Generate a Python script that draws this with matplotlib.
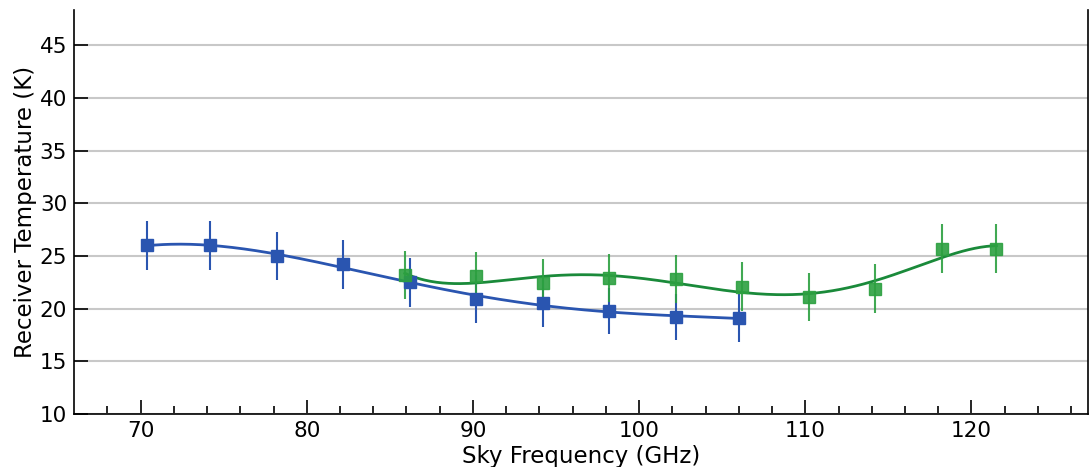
import numpy as np
import matplotlib.pyplot as plt

# Receiver temperature measurements (two receiver bands)
freq_a = np.array([70.4, 74.2, 78.2, 82.2, 86.2, 90.2, 94.2, 98.2, 102.2, 106.0])
temp_a = np.array([26.0, 26.0, 25.0, 24.2, 22.5, 20.9, 20.5, 19.8, 19.2, 19.1])
err_a = np.array([2.3, 2.3, 2.3, 2.3, 2.3, 2.3, 2.2, 2.2, 2.2, 2.3])

freq_b = np.array([85.9, 90.2, 94.2, 98.2, 102.2, 106.2, 110.2, 114.2, 118.2, 121.5])
temp_b = np.array([23.2, 23.1, 22.4, 22.9, 22.8, 22.1, 21.1, 21.9, 25.7, 25.7])
err_b = np.array([2.3, 2.3, 2.3, 2.3, 2.3, 2.3, 2.3, 2.3, 2.3, 2.3])

blue = '#2a55b0'
green_pt = '#2ca040'
green_ln = '#1a8a3a'

fig = plt.figure(figsize=(10.9, 4.67), dpi=100)
ax = fig.add_axes([0.068, 0.1135, 0.93, 0.866])

# polynomial fits to each band
xa = np.linspace(freq_a.min(), freq_a.max(), 300)
ax.plot(xa, np.polyval(np.polyfit(freq_a, temp_a, 4), xa), color=blue, lw=2)
xb = np.linspace(freq_b.min(), freq_b.max(), 300)
ax.plot(xb, np.polyval(np.polyfit(freq_b, temp_b, 5), xb), color=green_ln, lw=2)

ax.errorbar(freq_a, temp_a, yerr=err_a, fmt='s', color=blue, ms=8, elinewidth=1.5, capsize=0, zorder=3)
ax.errorbar(freq_b, temp_b, yerr=err_b, fmt='s', color=green_pt, ms=8, elinewidth=1.5, capsize=0,
            alpha=0.9, zorder=3)

ax.set_xlim(66, 127)
ax.set_ylim(10, 48.4)
ax.set_xticks([70, 80, 90, 100, 110, 120])
ax.set_xticks(np.arange(68, 127, 2), minor=True)
ax.set_yticks([10, 15, 20, 25, 30, 35, 40, 45])
ax.yaxis.grid(True, color='#c8c8c8', lw=1.5)
ax.set_axisbelow(True)
ax.tick_params(direction='in', length=10, width=1.2, labelsize=15.5, pad=5)
ax.tick_params(which='minor', direction='in', length=6, width=1.2)
ax.spines['top'].set_visible(False)
for s in ['left', 'bottom', 'right']:
    ax.spines[s].set_linewidth(1.2)

ax.set_xlabel('Sky Frequency (GHz)', fontsize=16.5, labelpad=3)
ax.set_ylabel('Receiver Temperature (K)', fontsize=16.5, labelpad=2)

plt.savefig('out.png')
